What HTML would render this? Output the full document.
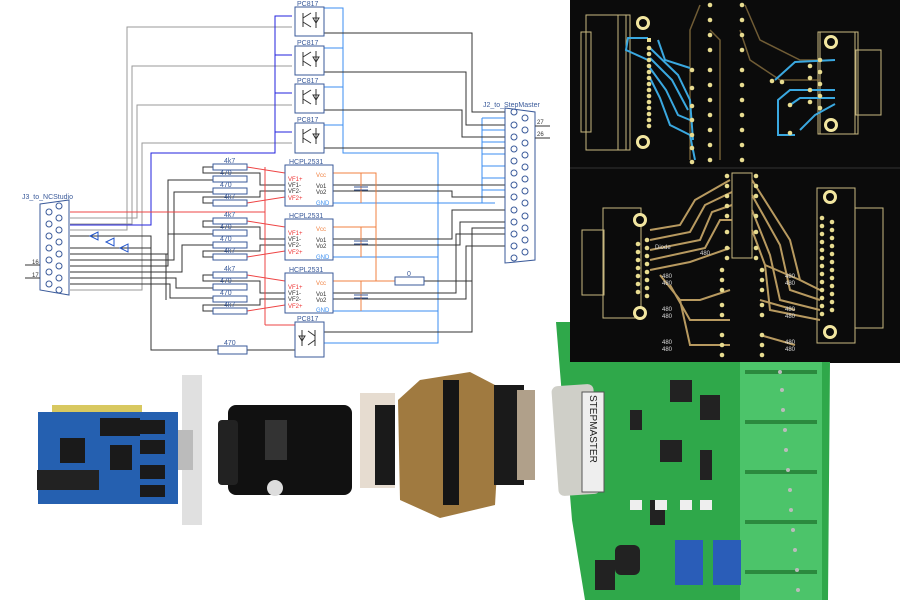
<!DOCTYPE html>
<html><head><meta charset="utf-8"><style>
html,body{margin:0;padding:0;background:#fff;}
svg{display:block;font-family:"Liberation Sans",sans-serif;}
</style></head><body>
<svg width="900" height="600" viewBox="0 0 900 600" xmlns="http://www.w3.org/2000/svg">
<rect width="900" height="600" fill="#fff"/>
<!-- ============ SCHEMATIC ============ -->
<g fill="none" stroke-width="1">
 <!-- gray wires from J3 to PC817 pin4 -->
 <g stroke="#999">
  <polyline points="292,27 127,27 127,230 70,230"/>
  <polyline points="292,66 132,66 132,224 70,224"/>
  <polyline points="292,105 137,105 137,218 70,218"/>
  <polyline points="292,143 142,143 142,290 70,290"/>
 </g>
 <!-- blue pin3 bus -->
 <g stroke="#2222dd">
  <polyline points="292,16 275,16 275,153 151,153 151,225 70,225"/>
  <line x1="275" y1="55" x2="292" y2="55"/><line x1="275" y1="93" x2="292" y2="93"/><line x1="275" y1="132" x2="292" y2="132"/>
 </g>
 <!-- light blue VCC/GND -->
 <g stroke="#3b8ef0">
  <polyline points="324,8 343,8 343,153 438,153 438,343 324,343"/>
  <line x1="324" y1="48" x2="343" y2="48"/><line x1="324" y1="87" x2="343" y2="87"/><line x1="324" y1="125" x2="343" y2="125"/>
  <line x1="333" y1="203" x2="495" y2="203"/><line x1="333" y1="257" x2="438" y2="257"/><line x1="333" y1="311" x2="438" y2="311"/>
  <line x1="482" y1="118" x2="482" y2="203"/>
  <line x1="482" y1="118" x2="505" y2="118"/><line x1="482" y1="130" x2="505" y2="130"/><line x1="482" y1="142" x2="505" y2="142"/><line x1="482" y1="154" x2="505" y2="154"/><line x1="482" y1="166" x2="505" y2="166"/><line x1="482" y1="178" x2="505" y2="178"/><line x1="482" y1="190" x2="505" y2="190"/>
 </g>
 <!-- black wires PC817 pin1 to J2 -->
 <g stroke="#333">
  <polyline points="324,33 472,33 472,112 505,112"/>
  <polyline points="324,72 466,72 466,125 505,125"/>
  <polyline points="324,110 462,110 462,137 505,137"/>
  <polyline points="324,148 505,148"/>
  <line x1="333" y1="185" x2="505" y2="185"/>
  <polyline points="333,191 452,191 452,197 505,197"/>
  <polyline points="333,239 452,239 452,210 505,210"/>
  <polyline points="333,245 460,245 460,222 505,222"/>
  <polyline points="333,293 456,293 456,234 505,234"/>
  <polyline points="333,299 466,299 466,246 505,246"/>
  <polyline points="324,332 472,332 472,228 505,228"/>
  <!-- J3 to resistors -->
  <polyline points="70,236 151,236 151,350 295,350"/>
  <polyline points="70,248 151,248"/>
  <polyline points="70,254 168,254 168,180 213,180"/>
  <polyline points="70,260 174,260 174,192 213,192"/>
  <polyline points="70,266 168,266 168,234 213,234"/>
  <polyline points="70,272 182,272 182,245 213,245"/>
  <polyline points="70,278 176,278 176,288 213,288"/>
  <polyline points="70,284 170,284 170,298 213,298"/>
  <polyline points="70,254 166,254 166,300"/>
  <line x1="213" y1="350" x2="247" y2="350"/>
 </g>
 <!-- resistor leads -->
 <g stroke="#333">
  <polyline points="213,167 203,167 203,173 260,173 260,185 285,185"/>
  <polyline points="213,203 203,203 203,197 260,197 260,191 285,191"/>
  <polyline points="213,221 203,221 203,227 260,227 260,239 285,239"/>
  <polyline points="213,257 203,257 203,251 260,251 260,245 285,245"/>
  <polyline points="213,275 203,275 203,281 260,281 260,293 285,293"/>
  <polyline points="213,311 203,311 203,305 260,305 260,299 285,299"/>
 </g>
 <!-- red -->
 <g stroke="#ee4444">
  <line x1="70" y1="212" x2="265" y2="212"/>
  <line x1="265" y1="167" x2="265" y2="325"/>
  <line x1="247" y1="167" x2="285" y2="173"/><line x1="247" y1="203" x2="285" y2="197"/>
  <line x1="247" y1="221" x2="285" y2="227"/><line x1="247" y1="257" x2="285" y2="251"/>
  <line x1="247" y1="275" x2="285" y2="281"/><line x1="247" y1="311" x2="285" y2="305"/>
  <polyline points="265,325 295,325"/>
 </g>
 <!-- orange VCC -->
 <g stroke="#f08040">
  <polyline points="333,173 376,173 376,281 395,281"/>
  <line x1="333" y1="227" x2="376" y2="227"/><line x1="333" y1="281" x2="376" y2="281"/>
  <line x1="361" y1="173" x2="361" y2="203"/><line x1="361" y1="227" x2="361" y2="257"/><line x1="361" y1="281" x2="361" y2="311"/>
 </g>
 <polyline points="424,281 472,281" stroke="#333"/>
 <rect x="395" y="277" width="29" height="8" stroke="#3a5a9a" fill="#fff"/>
 <!-- caps -->
 <g stroke="#3a5a9a"><line x1="354" y1="187" x2="368" y2="187"/><line x1="354" y1="190" x2="368" y2="190"/><line x1="354" y1="241" x2="368" y2="241"/><line x1="354" y1="244" x2="368" y2="244"/><line x1="354" y1="295" x2="368" y2="295"/><line x1="354" y1="298" x2="368" y2="298"/></g>
 <!-- resistors -->
 <g stroke="#3a5a9a" fill="#fff">
  <rect x="213" y="164" width="34" height="6"/><rect x="213" y="176" width="34" height="6"/><rect x="213" y="188" width="34" height="6"/><rect x="213" y="200" width="34" height="6"/>
  <rect x="213" y="218" width="34" height="6"/><rect x="213" y="230" width="34" height="6"/><rect x="213" y="242" width="34" height="6"/><rect x="213" y="254" width="34" height="6"/>
  <rect x="213" y="272" width="34" height="6"/><rect x="213" y="284" width="34" height="6"/><rect x="213" y="296" width="34" height="6"/><rect x="213" y="308" width="34" height="6"/>
  <rect x="218" y="346" width="29" height="8"/>
 </g>
 <!-- PC817 boxes -->
 <g stroke="#3a5a9a" fill="#fff">
  <rect x="295" y="7" width="29" height="29"/><rect x="295" y="46" width="29" height="29"/><rect x="295" y="84" width="29" height="29"/><rect x="295" y="123" width="29" height="30"/>
  <rect x="295" y="322" width="29" height="35"/>
  <rect x="285" y="165" width="48" height="41"/><rect x="285" y="219" width="48" height="41"/><rect x="285" y="273" width="48" height="40"/>
 </g>
 <g stroke="#333">
  <path d="M303,13 v14 M303,18 l8,-5 M303,22 l8,5 M316,12 v16 M313,18 h6 l-3,5 z"/>
  <path d="M303,52 v14 M303,57 l8,-5 M303,61 l8,5 M316,51 v16 M313,57 h6 l-3,5 z"/>
  <path d="M303,90 v14 M303,95 l8,-5 M303,99 l8,5 M316,89 v16 M313,95 h6 l-3,5 z"/>
  <path d="M303,129 v14 M303,134 l8,-5 M303,138 l8,5 M316,128 v16 M313,134 h6 l-3,5 z"/>
  <path d="M315,330 v16 M315,336 l-7,-5 M315,340 l-7,5 M302,330 v16 M299,336 h6 l-3,5 z"/>
 </g>
 <!-- J2 connector -->
 <path d="M505,108 L535,112 L535,260 L505,263 Z" stroke="#3a5a9a" fill="#fff"/>
 <g stroke="#3a5a9a">
  <circle cx="514" cy="112" r="3"/><circle cx="514" cy="125" r="3"/><circle cx="514" cy="137" r="3"/><circle cx="514" cy="149" r="3"/><circle cx="514" cy="161" r="3"/><circle cx="514" cy="173" r="3"/><circle cx="514" cy="185" r="3"/><circle cx="514" cy="197" r="3"/><circle cx="514" cy="210" r="3"/><circle cx="514" cy="222" r="3"/><circle cx="514" cy="234" r="3"/><circle cx="514" cy="246" r="3"/><circle cx="514" cy="258" r="3"/>
  <circle cx="525" cy="118" r="3"/><circle cx="525" cy="130" r="3"/><circle cx="525" cy="143" r="3"/><circle cx="525" cy="155" r="3"/><circle cx="525" cy="167" r="3"/><circle cx="525" cy="179" r="3"/><circle cx="525" cy="191" r="3"/><circle cx="525" cy="203" r="3"/><circle cx="525" cy="216" r="3"/><circle cx="525" cy="228" r="3"/><circle cx="525" cy="240" r="3"/><circle cx="525" cy="252" r="3"/>
 </g>
 <line x1="535" y1="126" x2="550" y2="126" stroke="#333"/><line x1="535" y1="138" x2="550" y2="138" stroke="#333"/>
 <!-- J3 connector -->
 <path d="M40,204 L69,200 L69,295 L40,290 Z" stroke="#3a5a9a" fill="#fff"/>
 <g stroke="#3a5a9a">
  <circle cx="59" cy="206" r="3"/><circle cx="59" cy="218" r="3"/><circle cx="59" cy="230" r="3"/><circle cx="59" cy="242" r="3"/><circle cx="59" cy="254" r="3"/><circle cx="59" cy="266" r="3"/><circle cx="59" cy="278" r="3"/><circle cx="59" cy="290" r="3"/>
  <circle cx="49" cy="212" r="3"/><circle cx="49" cy="224" r="3"/><circle cx="49" cy="236" r="3"/><circle cx="49" cy="248" r="3"/><circle cx="49" cy="260" r="3"/><circle cx="49" cy="272" r="3"/><circle cx="49" cy="284" r="3"/>
 </g>
 <line x1="25" y1="265" x2="40" y2="265" stroke="#333"/><line x1="25" y1="278" x2="40" y2="278" stroke="#333"/>
 <!-- diodes -->
 <g stroke="#2255cc"><path d="M90,236 l8,-4 v8 z M98,232 v8 M106,242 l8,-4 v8 z M114,238 v8 M120,248 l8,-4 v8 z M128,244 v8"/></g>
</g>
<g font-size="7" fill="#3a5a9a">
 <text x="297" y="6">PC817</text><text x="297" y="45">PC817</text><text x="297" y="83">PC817</text><text x="297" y="122">PC817</text><text x="297" y="321">PC817</text>
 <text x="289" y="164">HCPL2531</text><text x="289" y="218">HCPL2531</text><text x="289" y="272">HCPL2531</text>
 <text x="483" y="107">J2_to_StepMaster</text><text x="22" y="199">J3_to_NCStudio</text>
 <text x="224" y="163">4k7</text><text x="220" y="175">470</text><text x="220" y="187">470</text><text x="224" y="199">4k7</text>
 <text x="224" y="217">4k7</text><text x="220" y="229">470</text><text x="220" y="241">470</text><text x="224" y="253">4k7</text>
 <text x="224" y="271">4k7</text><text x="220" y="283">470</text><text x="220" y="295">470</text><text x="224" y="307">4k7</text>
 <text x="224" y="345">470</text><text x="407" y="276">0</text>
</g>
<g font-size="6" fill="#333">
 <text x="288" y="181" fill="#e33">VF1+</text><text x="288" y="187">VF1-</text><text x="288" y="193">VF2-</text><text x="288" y="200" fill="#e33">VF2+</text>
 <text x="316" y="177" fill="#f08040">Vcc</text><text x="316" y="188">Vo1</text><text x="316" y="194">Vo2</text><text x="316" y="205" fill="#3b8ef0">GND</text>
 <text x="288" y="235" fill="#e33">VF1+</text><text x="288" y="241">VF1-</text><text x="288" y="247">VF2-</text><text x="288" y="254" fill="#e33">VF2+</text>
 <text x="316" y="231" fill="#f08040">Vcc</text><text x="316" y="242">Vo1</text><text x="316" y="248">Vo2</text><text x="316" y="259" fill="#3b8ef0">GND</text>
 <text x="288" y="289" fill="#e33">VF1+</text><text x="288" y="295">VF1-</text><text x="288" y="301">VF2-</text><text x="288" y="308" fill="#e33">VF2+</text>
 <text x="316" y="285" fill="#f08040">Vcc</text><text x="316" y="296">Vo1</text><text x="316" y="302">Vo2</text><text x="316" y="312" fill="#3b8ef0">GND</text>
 <text x="537" y="124">27</text><text x="537" y="136">26</text><text x="32" y="264">16</text><text x="32" y="277">17</text>
</g>
<!-- ============ PCB PANEL ============ -->
<rect x="570" y="0" width="330" height="363" fill="#0b0b0b"/>
<line x1="570" y1="168" x2="900" y2="168" stroke="#333"/>
<g fill="none" stroke="#c8b880" stroke-width="1">
 <rect x="586" y="15" width="40" height="135"/><rect x="618" y="15" width="12" height="135"/><rect x="581" y="32" width="10" height="100"/>
 <rect x="820" y="32" width="35" height="102"/><rect x="818" y="32" width="40" height="102"/><rect x="856" y="50" width="25" height="65"/>
 <rect x="603" y="208" width="38" height="110"/><rect x="582" y="230" width="22" height="65"/>
 <rect x="817" y="188" width="38" height="155"/><rect x="855" y="208" width="28" height="120"/>
 <rect x="732" y="173" width="20" height="85"/>
</g>
<g fill="#f2e6a0">
 <circle cx="643" cy="23" r="7"/><circle cx="643" cy="142" r="7"/><circle cx="831" cy="42" r="7"/><circle cx="831" cy="125" r="7"/>
 <circle cx="640" cy="220" r="7"/><circle cx="640" cy="313" r="7"/><circle cx="830" cy="197" r="7"/><circle cx="830" cy="332" r="7"/>
</g>
<g fill="#0b0b0b"><circle cx="643" cy="23" r="4"/><circle cx="643" cy="142" r="4"/><circle cx="831" cy="42" r="4"/><circle cx="831" cy="125" r="4"/><circle cx="640" cy="220" r="4"/><circle cx="640" cy="313" r="4"/><circle cx="830" cy="197" r="4"/><circle cx="830" cy="332" r="4"/></g>
<g fill="none" stroke="#8a7040" stroke-width="1.5" opacity="0.8">
 <path d="M700,5 L690,30 L690,160 M745,5 L760,40 L800,60 L820,60 M710,30 L720,40 L720,160 M740,30 L750,60 L780,80 L820,80"/>
</g>
<g fill="none" stroke="#3aa8e0" stroke-width="2">
 <path d="M648,38 L628,38 L626,50 L648,60 M658,40 L665,60 L690,68 M650,48 L678,75 L690,100 L693,140 M650,58 L672,80 L688,110 M650,68 L666,90 L678,115 L690,120 M650,78 L660,98 L670,125 L690,135 L695,160"/>
 <path d="M835,60 L795,62 L775,80 M835,90 L790,90 L778,100 L778,135 L795,135 M835,98 L800,98 L790,105 M835,104 L815,115 L800,130"/>
</g>
<g fill="#e8dc90">
 <rect x="647" y="38" width="4" height="4"/><circle cx="649" cy="48" r="2.3"/><circle cx="649" cy="54" r="2.3"/><circle cx="649" cy="60" r="2.3"/><circle cx="649" cy="66" r="2.3"/><circle cx="649" cy="72" r="2.3"/><circle cx="649" cy="78" r="2.3"/><circle cx="649" cy="84" r="2.3"/><circle cx="649" cy="90" r="2.3"/><circle cx="649" cy="96" r="2.3"/><circle cx="649" cy="102" r="2.3"/><circle cx="649" cy="108" r="2.3"/><circle cx="649" cy="114" r="2.3"/><circle cx="649" cy="120" r="2.3"/><circle cx="649" cy="126" r="2.3"/>
 <circle cx="710" cy="5" r="2.3"/><circle cx="710" cy="20" r="2.3"/><circle cx="710" cy="35" r="2.3"/><circle cx="710" cy="50" r="2.3"/><circle cx="710" cy="70" r="2.3"/><circle cx="710" cy="85" r="2.3"/><circle cx="710" cy="100" r="2.3"/><circle cx="710" cy="115" r="2.3"/><circle cx="710" cy="130" r="2.3"/><circle cx="710" cy="145" r="2.3"/><circle cx="710" cy="160" r="2.3"/>
 <circle cx="742" cy="5" r="2.3"/><circle cx="742" cy="20" r="2.3"/><circle cx="742" cy="35" r="2.3"/><circle cx="742" cy="50" r="2.3"/><circle cx="742" cy="70" r="2.3"/><circle cx="742" cy="85" r="2.3"/><circle cx="742" cy="100" r="2.3"/><circle cx="742" cy="115" r="2.3"/><circle cx="742" cy="130" r="2.3"/><circle cx="742" cy="145" r="2.3"/><circle cx="742" cy="160" r="2.3"/>
 <circle cx="692" cy="70" r="2.3"/><circle cx="692" cy="88" r="2.3"/><circle cx="692" cy="106" r="2.3"/><circle cx="692" cy="120" r="2.3"/><circle cx="692" cy="135" r="2.3"/><circle cx="692" cy="148" r="2.3"/><circle cx="692" cy="162" r="2.3"/>
 <circle cx="820" cy="60" r="2.3"/><circle cx="820" cy="72" r="2.3"/><circle cx="820" cy="84" r="2.3"/><circle cx="820" cy="96" r="2.3"/><circle cx="820" cy="108" r="2.3"/><circle cx="810" cy="66" r="2.3"/><circle cx="810" cy="78" r="2.3"/><circle cx="810" cy="90" r="2.3"/><circle cx="810" cy="102" r="2.3"/>
 <circle cx="772" cy="81" r="2.3"/><circle cx="782" cy="82" r="2.3"/><circle cx="790" cy="105" r="2.3"/><circle cx="790" cy="133" r="2.3"/>
</g>
<g fill="none" stroke="#b89a60" stroke-width="2">
 <path d="M650,230 L680,225 L695,200 L730,180 M650,240 L690,232 L705,205 L732,192 M650,250 L700,240 L712,212 L732,205 M650,260 L705,248 L720,220 L732,220 M650,270 L690,262 L730,248"/>
 <path d="M752,180 L790,240 L800,280 L820,290 M752,195 L780,245 L790,290 L820,300 M752,210 L770,255 L780,300 L820,310 M752,230 L765,265 L770,310 L820,320"/>
 <path d="M660,275 L680,300 L700,300 L730,290 M670,285 L690,320 L730,320 M680,300 L690,345 L730,345"/>
 <path d="M765,265 L800,280 M760,300 L795,310 M760,335 L795,345"/>
</g>
<g fill="#e8dc90">
 <circle cx="647" cy="240" r="2.3"/><circle cx="647" cy="248" r="2.3"/><circle cx="647" cy="256" r="2.3"/><circle cx="647" cy="264" r="2.3"/><circle cx="647" cy="272" r="2.3"/><circle cx="647" cy="280" r="2.3"/><circle cx="647" cy="288" r="2.3"/><circle cx="647" cy="296" r="2.3"/>
 <circle cx="638" cy="244" r="2.3"/><circle cx="638" cy="252" r="2.3"/><circle cx="638" cy="260" r="2.3"/><circle cx="638" cy="268" r="2.3"/><circle cx="638" cy="276" r="2.3"/><circle cx="638" cy="284" r="2.3"/><circle cx="638" cy="292" r="2.3"/>
 <circle cx="822" cy="218" r="2.3"/><circle cx="822" cy="226" r="2.3"/><circle cx="822" cy="234" r="2.3"/><circle cx="822" cy="242" r="2.3"/><circle cx="822" cy="250" r="2.3"/><circle cx="822" cy="258" r="2.3"/><circle cx="822" cy="266" r="2.3"/><circle cx="822" cy="274" r="2.3"/><circle cx="822" cy="282" r="2.3"/><circle cx="822" cy="290" r="2.3"/><circle cx="822" cy="298" r="2.3"/><circle cx="822" cy="306" r="2.3"/><circle cx="822" cy="314" r="2.3"/>
 <circle cx="832" cy="222" r="2.3"/><circle cx="832" cy="230" r="2.3"/><circle cx="832" cy="238" r="2.3"/><circle cx="832" cy="246" r="2.3"/><circle cx="832" cy="254" r="2.3"/><circle cx="832" cy="262" r="2.3"/><circle cx="832" cy="270" r="2.3"/><circle cx="832" cy="278" r="2.3"/><circle cx="832" cy="286" r="2.3"/><circle cx="832" cy="294" r="2.3"/><circle cx="832" cy="302" r="2.3"/><circle cx="832" cy="310" r="2.3"/>
 <circle cx="727" cy="176" r="2.3"/><circle cx="727" cy="186" r="2.3"/><circle cx="727" cy="196" r="2.3"/><circle cx="727" cy="206" r="2.3"/><circle cx="727" cy="216" r="2.3"/><circle cx="727" cy="232" r="2.3"/><circle cx="727" cy="248" r="2.3"/><circle cx="727" cy="258" r="2.3"/>
 <circle cx="756" cy="176" r="2.3"/><circle cx="756" cy="186" r="2.3"/><circle cx="756" cy="196" r="2.3"/><circle cx="756" cy="216" r="2.3"/><circle cx="756" cy="232" r="2.3"/><circle cx="756" cy="248" r="2.3"/><circle cx="756" cy="258" r="2.3"/>
 <circle cx="722" cy="270" r="2.3"/><circle cx="722" cy="280" r="2.3"/><circle cx="722" cy="290" r="2.3"/><circle cx="722" cy="305" r="2.3"/><circle cx="722" cy="315" r="2.3"/><circle cx="722" cy="335" r="2.3"/><circle cx="722" cy="345" r="2.3"/><circle cx="722" cy="355" r="2.3"/>
 <circle cx="762" cy="270" r="2.3"/><circle cx="762" cy="280" r="2.3"/><circle cx="762" cy="290" r="2.3"/><circle cx="762" cy="305" r="2.3"/><circle cx="762" cy="315" r="2.3"/><circle cx="762" cy="335" r="2.3"/><circle cx="762" cy="345" r="2.3"/><circle cx="762" cy="355" r="2.3"/>
</g>
<g font-size="6" fill="#ddd">
 <text x="655" y="249">Diode</text><text x="700" y="255">480</text>
 <text x="662" y="278">480</text><text x="662" y="285">480</text><text x="662" y="311">480</text><text x="662" y="318">480</text><text x="662" y="344">480</text><text x="662" y="351">480</text>
 <text x="785" y="278">480</text><text x="785" y="285">480</text><text x="785" y="311">480</text><text x="785" y="318">480</text><text x="785" y="344">480</text><text x="785" y="351">480</text>
</g>
<!-- ============ PHOTOS ============ -->
<!-- green board -->
<polygon points="556,322 570,322 570,362 830,362 828,600 585,600 572,520" fill="#2fa84a"/>
<rect x="740" y="362" width="82" height="238" fill="#4cc46a"/>
<g fill="#2b8a3e"><rect x="745" y="370" width="72" height="4"/><rect x="745" y="420" width="72" height="4"/><rect x="745" y="470" width="72" height="4"/><rect x="745" y="520" width="72" height="4"/><rect x="745" y="570" width="72" height="4"/></g>
<g fill="#bbb"><circle cx="780" cy="372" r="2"/><circle cx="782" cy="390" r="2"/><circle cx="783" cy="410" r="2"/><circle cx="785" cy="430" r="2"/><circle cx="786" cy="450" r="2"/><circle cx="788" cy="470" r="2"/><circle cx="790" cy="490" r="2"/><circle cx="791" cy="510" r="2"/><circle cx="793" cy="530" r="2"/><circle cx="795" cy="550" r="2"/><circle cx="797" cy="570" r="2"/><circle cx="798" cy="590" r="2"/></g>
<rect x="555" y="385" width="42" height="110" rx="6" fill="#cfcfc8" transform="rotate(-4 576 440)"/>
<rect x="582" y="392" width="22" height="100" fill="#eee" stroke="#555"/>
<text x="0" y="0" font-size="10" fill="#222" transform="translate(590,395) rotate(90)">STEPMASTER</text>
<g fill="#222"><rect x="660" y="440" width="22" height="22"/><rect x="670" y="380" width="22" height="22"/><rect x="700" y="395" width="20" height="25"/><rect x="630" y="410" width="12" height="20"/><rect x="700" y="450" width="12" height="30"/><rect x="650" y="500" width="15" height="25"/><rect x="595" y="560" width="20" height="30"/><rect x="615" y="545" width="25" height="30" rx="6"/></g>
<g fill="#2a5db8"><rect x="675" y="540" width="28" height="45"/><rect x="713" y="540" width="28" height="45"/></g>
<g fill="#eee"><rect x="630" y="500" width="12" height="10"/><rect x="655" y="500" width="12" height="10"/><rect x="680" y="500" width="12" height="10"/><rect x="700" y="500" width="12" height="10"/></g>
<!-- brown pcb adapter -->
<rect x="360" y="393" width="35" height="95" fill="#e6dcd0"/>
<polygon points="420,380 470,372 495,385 500,420 495,505 440,518 400,500 398,400" fill="#a07a40"/>
<rect x="375" y="405" width="20" height="80" fill="#1a1a1a"/>
<g fill="#151515"><rect x="443" y="380" width="16" height="125"/></g>
<rect x="494" y="385" width="30" height="100" fill="#1a1a1a"/><rect x="517" y="390" width="18" height="90" fill="#b0a08a"/>
<!-- black box -->
<rect x="228" y="405" width="124" height="90" rx="8" fill="#111"/>
<rect x="218" y="420" width="20" height="65" rx="4" fill="#222"/>
<rect x="265" y="420" width="22" height="40" fill="#333"/>
<circle cx="275" cy="488" r="8" fill="#ddd"/>
<!-- blue card -->
<rect x="52" y="405" width="90" height="10" fill="#d8c860"/>
<rect x="38" y="412" width="140" height="92" fill="#2560b0"/>
<rect x="37" y="470" width="62" height="20" fill="#222"/>
<g fill="#1a1a1a"><rect x="60" y="438" width="25" height="25"/><rect x="100" y="418" width="40" height="18"/><rect x="110" y="445" width="22" height="25"/><rect x="140" y="420" width="25" height="14"/><rect x="140" y="440" width="25" height="14"/><rect x="140" y="465" width="25" height="14"/><rect x="140" y="485" width="25" height="12"/></g>
<rect x="182" y="375" width="20" height="150" fill="#e0e0e0"/>
<rect x="178" y="430" width="15" height="40" fill="#bbb"/>
</svg>
</body></html>
